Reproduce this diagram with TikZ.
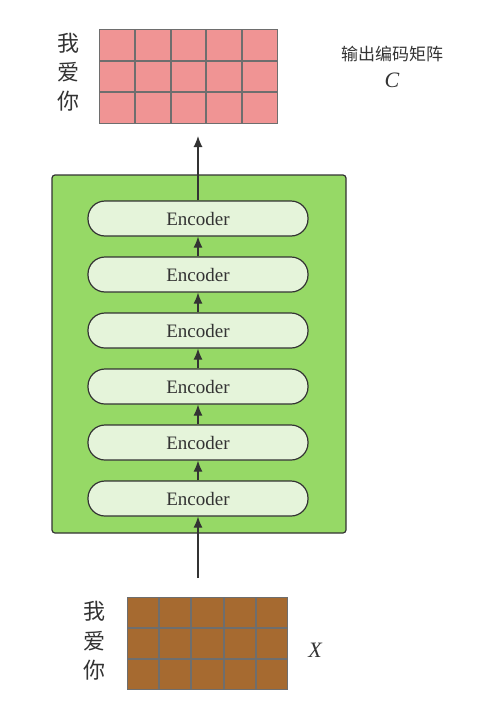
\documentclass[tikz,border=0pt]{standalone}
\usepackage{fontspec}
\newfontfamily\cjk{Noto Sans CJK SC}
\newfontfamily\encfont{Liberation Serif}
\usetikzlibrary{positioning,matrix,arrows.meta}
\definecolor{outpink}{HTML}{F09494}
\definecolor{inbrown}{HTML}{A66A30}
\definecolor{gridgray}{HTML}{6E6E6E}
\definecolor{boxgreen}{HTML}{96D966}
\definecolor{encfill}{HTML}{E5F4DA}
\definecolor{inkgray}{HTML}{333333}

\begin{document}
\begin{tikzpicture}[
  x=1pt,y=-1pt,
  grid_mat/.style={matrix of nodes,column sep=0pt,row sep=0pt,inner sep=0pt,outer sep=0pt,
    nodes={draw=gridgray,line width=1pt,outer sep=0pt,inner sep=0pt}},
  out_cell/.style={fill=outpink,minimum width=34.8pt,minimum height=30.7pt},
  in_cell/.style={fill=inbrown,minimum width=31.2pt,minimum height=30pt},
  enc/.style={draw=inkgray,line width=1.2pt,fill=encfill,rounded corners=17pt,
    minimum width=220pt,minimum height=35pt,inner sep=0pt,
    font=\encfont\fontsize{19}{21}\selectfont,text=inkgray},
  encbox/.style={draw=inkgray,line width=1.2pt,fill=boxgreen,rounded corners=3pt,
    minimum width=294pt,minimum height=358pt},
  word/.style={font=\cjk\fontsize{22}{24}\selectfont,text=inkgray,inner sep=0pt},
  sym/.style={font=\encfont\fontsize{22}{24}\selectfont\itshape,text=inkgray},
  flow/.style={draw=inkgray,line width=1.2pt,-{Latex[length=11pt,width=9pt]}}
  ]
  \useasboundingbox (0,0) rectangle (497,715);

  % output matrix C
  \matrix[grid_mat,nodes={out_cell},anchor=north west] (outmat) at (99,29) {
    {} & {} & {} & {} & {} \\
    {} & {} & {} & {} & {} \\
    {} & {} & {} & {} & {} \\
  };
  \node[word] (o1) at (68,43)  {我};
  \node[word] (o2) at (68,72)  {爱};
  \node[word] (o3) at (68,101) {你};
  \node[font=\cjk\fontsize{17}{20}\selectfont,text=inkgray] (outname) at (392,54) {输出编码矩阵};
  \node[sym] (outsym) at (392,80) {C};

  % encoder stack
  \node[encbox] (stack) at (199,354) {};
  \node[enc] (enc1) at (198,498.5) {Encoder};
  \node[enc,above=19.8pt of enc1] (enc2) {Encoder};
  \node[enc,above=19.8pt of enc2] (enc3) {Encoder};
  \node[enc,above=19.8pt of enc3] (enc4) {Encoder};
  \node[enc,above=19.8pt of enc4] (enc5) {Encoder};
  \node[enc,above=19.8pt of enc5] (enc6) {Encoder};

  \draw[flow] (enc1) -- (enc2);
  \draw[flow] (enc2) -- (enc3);
  \draw[flow] (enc3) -- (enc4);
  \draw[flow] (enc4) -- (enc5);
  \draw[flow] (enc5) -- (enc6);

  % input matrix X
  \matrix[grid_mat,nodes={in_cell},anchor=north west] (inmat) at (127,597) {
    {} & {} & {} & {} & {} \\
    {} & {} & {} & {} & {} \\
    {} & {} & {} & {} & {} \\
  };
  \node[word] (i1) at (94,611) {我};
  \node[word] (i2) at (94,641) {爱};
  \node[word] (i3) at (94,670) {你};
  \node[sym] (insym) at (315,650) {X};

  \coordinate (intail) at (198,578);
  \coordinate (outtip) at (198,136);
  \draw[flow] (intail) -- (enc1);
  \draw[flow] (enc6.north) -- (outtip);
\end{tikzpicture}
\end{document}
